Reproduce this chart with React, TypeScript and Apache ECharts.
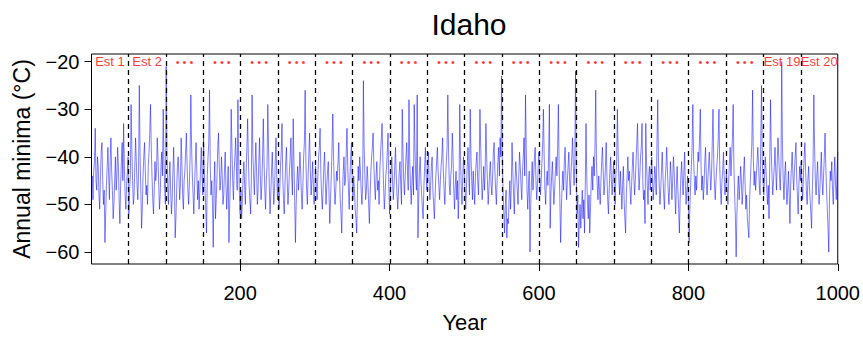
import React, { useEffect, useRef } from "react";
import * as echarts from "echarts";

// Annual minima (°C), years 1..1000 in blocks of 10 years
const minima: number[] = [
  -46,-44,-49,-43,-41,-34,-45,-47,-40,-42, -48,-51,-44,-39,-37,-45,-50,-47,-58,-52,
  -46,-42,-38,-44,-49,-41,-36,-43,-47,-53, -50,-45,-40,-47,-44,-38,-42,-49,-54,-46,
  -41,-37,-45,-33,-42,-48,-51,-46,-43,-40,
  -52,-47,-44,-29,-38,-45,-50,-48,-42,-36, -41,-46,-49,-43,-25,-39,-47,-55,-51,-44,
  -40,-37,-43,-48,-46,-50,-42,-39,-35,-29, -38,-44,-49,-52,-47,-41,-45,-43,-36,-40,
  -46,-51,-48,-42,-39,-44,-30,-41,-47,-50,
  -21,-39,-46,-50,-44,-41,-47,-52,-49,-43, -38,-45,-57,-53,-47,-42,-40,-44,-49,-46,
  -36,-41,-48,-51,-45,-43,-39,-35,-42,-47, -50,-46,-40,-27,-38,-44,-48,-52,-46,-41,
  -37,-43,-49,-45,-51,-47,-42,-38,-44,-48,
  -36,-43,-47,-51,-56,-44,-40,-37,-26,-42, -48,-45,-50,-59,-46,-41,-53,-49,-44,-38,
  -35,-42,-47,-45,-40,-44,-50,-48,-43,-39, -46,-51,-47,-42,-58,-50,-44,-30,-38,-45,
  -49,-43,-40,-36,-42,-47,-28,-41,-48,-52,
  -47,-53,-49,-44,-41,-46,-50,-43,-38,-32, -40,-46,-49,-52,-45,-27,-39,-44,-48,-42,
  -37,-43,-50,-47,-41,-36,-44,-49,-46,-40, -32,-41,-47,-51,-45,-42,-29,-38,-46,-52,
  -48,-43,-39,-45,-50,-47,-41,-36,-44,-49,
  -45,-51,-47,-42,-39,-33,-44,-49,-52,-46, -41,-38,-45,-50,-47,-43,-40,-36,-44,-48,
  -32,-41,-49,-58,-50,-45,-42,-47,-44,-39, -43,-48,-51,-46,-40,-37,-26,-41,-47,-50,
  -44,-39,-35,-43,-48,-45,-41,-46,-50,-47,
  -42,-46,-49,-44,-40,-38,-34,-43,-48,-51, -47,-42,-39,-45,-50,-46,-43,-41,-48,-54,
  -49,-44,-38,-31,-40,-46,-50,-47,-43,-45, -41,-37,-44,-49,-52,-56,-48,-43,-40,-46,
  -45,-39,-34,-42,-47,-51,-44,-40,-37,-45,
  -49,-44,-47,-51,-53,-56,-48,-42,-45,-40, -43,-47,-50,-46,-24,-38,-44,-49,-47,-42,
  -45,-50,-54,-48,-43,-40,-38,-35,-42,-46, -49,-44,-41,-47,-45,-50,-43,-39,-36,-33,
  -40,-46,-51,-48,-44,-42,-39,-35,-46,-52,
  -47,-43,-40,-45,-49,-46,-42,-38,-44,-48, -51,-47,-43,-41,-46,-50,-30,-39,-45,-48,
  -44,-40,-37,-43,-47,-28,-41,-46,-50,-45, -42,-48,-29,-38,-44,-47,-27,-57,-49,-43,
  -40,-45,-48,-51,-53,-46,-42,-38,-44,-47,
  -43,-39,-45,-49,-46,-42,-40,-47,-50,-53, -48,-44,-41,-38,-43,-46,-49,-45,-42,-40,
  -36,-43,-47,-50,-45,-41,-38,-27,-39,-46, -48,-44,-42,-35,-40,-47,-51,-46,-43,-49,
  -45,-53,-47,-29,-41,-46,-50,-44,-40,-43,
  -47,-51,-46,-42,-38,-44,-48,-30,-40,-45, -49,-43,-47,-50,-44,-41,-39,-45,-48,-42,
  -30,-38,-44,-49,-46,-42,-47,-43,-33,-40, -45,-50,-47,-43,-41,-46,-48,-44,-39,-37,
  -43,-47,-50,-45,-41,-38,-44,-36,-40,-23,
  -41,-48,-52,-56,-50,-47,-57,-53,-54,-49, -45,-51,-46,-37,-43,-48,-52,-45,-41,-44,
  -47,-50,-44,-39,-42,-46,-49,-43,-40,-36, -44,-27,-38,-47,-51,-46,-43,-60,-50,-45,
  -41,-47,-44,-40,-38,-45,-49,-46,-42,-39,
  -44,-48,-45,-41,-37,-30,-40,-47,-50,-45, -43,-46,-39,-29,-55,-48,-44,-41,-46,-50,
  -47,-43,-40,-44,-38,-29,-42,-49,-58,-51, -46,-43,-47,-41,-38,-44,-49,-45,-42,-39,
  -45,-48,-43,-40,-36,-42,-46,-41,-22,-44,
  -52,-48,-59,-54,-50,-55,-51,-47,-53,-49, -56,-46,-33,-44,-50,-53,-48,-56,-51,-45,
  -42,-47,-40,-44,-38,-26,-41,-46,-49,-44, -47,-50,-45,-41,-38,-43,-48,-46,-42,-37,
  -44,-49,-52,-47,-43,-40,-45,-48,-44,-41,
  -46,-50,-44,-41,-30,-39,-45,-48,-43,-47, -51,-46,-42,-49,-53,-56,-48,-44,-40,-45,
  -43,-47,-50,-46,-42,-39,-44,-48,-45,-41, -37,-33,-42,-47,-44,-40,-38,-33,-45,-49,
  -47,-54,-33,-41,-46,-50,-44,-42,-47,-43,
  -40,-45,-49,-46,-42,-44,-48,-37,-28,-41, -46,-50,-47,-43,-39,-44,-48,-51,-45,-42,
  -38,-43,-47,-50,-46,-41,-44,-49,-45,-40, -43,-48,-52,-46,-42,-47,-51,-56,-49,-44,
  -41,-45,-48,-43,-39,-46,-50,-47,-44,-49,
  -58,-51,-46,-42,-38,-29,-40,-45,-48,-44, -47,-43,-39,-41,-36,-30,-42,-47,-44,-49,
  -46,-41,-38,-44,-48,-45,-42,-39,-43,-47, -44,-37,-30,-41,-46,-49,-45,-42,-40,-36,
  -30,-42,-47,-50,-45,-43,-39,-44,-48,-46,
  -43,-47,-50,-45,-41,-38,-44,-40,-36,-29, -42,-48,-53,-61,-52,-47,-44,-49,-46,-42,
  -45,-50,-47,-43,-40,-46,-51,-48,-53,-55, -57,-49,-45,-41,-37,-26,-40,-46,-43,-47,
  -44,-41,-38,-42,-46,-48,-36,-25,-41,-45,
  -48,-44,-40,-43,-47,-50,-46,-53,-41,-28, -39,-44,-48,-45,-42,-38,-43,-47,-41,-36,
  -40,-44,-47,-42,-20,-38,-45,-49,-44,-41, -46,-50,-47,-43,-48,-54,-46,-42,-39,-44,
  -47,-43,-40,-37,-44,-48,-52,-46,-42,-45,
  -41,-46,-49,-44,-40,-37,-43,-47,-50,-45, -42,-46,-49,-52,-55,-47,-41,-27,-38,-45,
  -48,-44,-41,-46,-50,-47,-43,-39,-45,-48, -44,-40,-35,-42,-47,-51,-55,-60,-48,-43,
  -45,-41,-47,-50,-44,-40,-46,-49,-43,-39,
];

const firstYear = 1;
// Estimation-window boundaries (dashed lines)
const windowBreaks = [50.5, 100.5, 150.5, 200.5, 250.5, 300.5, 350.5, 400.5, 450.5, 500.5,
  550.5, 600.5, 650.5, 700.5, 750.5, 800.5, 850.5, 900.5, 950.5];
// Window label positions (centre years) and texts
const windowCentres = [25.75, 75.5, 125.5, 175.5, 225.5, 275.5, 325.5, 375.5, 425.5, 475.5,
  525.5, 575.5, 625.5, 675.5, 725.5, 775.5, 825.5, 875.5, 925.5, 975.25];
const DOTS = "• • •";
const windowLabels = ["Est 1", "Est 2", DOTS, DOTS, DOTS, DOTS, DOTS, DOTS,
  DOTS, DOTS, DOTS, DOTS, DOTS, DOTS, DOTS, DOTS, DOTS, DOTS,
  "Est 19", "Est 20"];
const labelLevel = -20;
const xTicks = [200, 400, 600, 800, 1000];
const yTicks = [-60, -50, -40, -30, -20];

const FONT = "'Liberation Sans', Arial, Helvetica, sans-serif";

export default function App() {
  const ref = useRef<HTMLDivElement>(null);
  useEffect(() => {
    if (!ref.current) return;
    const chart = echarts.init(ref.current, undefined, { renderer: "svg" });
    const lineData = minima.map((v, i) => [firstYear + i, v]);
    const labelData = windowCentres.map((c) => [c, labelLevel]);
    chart.setOption({
      animation: false,
      backgroundColor: "#ffffff",
      title: {
        text: "Idaho",
        left: 464,
        textAlign: "center",
        top: 4,
        textStyle: { fontFamily: FONT, fontSize: 30, fontWeight: "normal", color: "#000" },
      },
      grid: {
        left: 91.5,
        right: 25,
        top: 54,
        bottom: 72,
        show: true,
        borderColor: "#000",
        borderWidth: 1,
        backgroundColor: "transparent",
      },
      xAxis: {
        type: "value",
        min: 1,
        max: 1000,
        name: "Year",
        nameLocation: "middle",
        nameGap: 47,
        nameTextStyle: { fontFamily: FONT, fontSize: 22, color: "#000" },
        axisLine: { show: false },
        splitLine: { show: false },
        axisTick: { show: true, length: 7, lineStyle: { color: "#000" }, customValues: xTicks },
        axisLabel: {
          customValues: xTicks,
          margin: 19,
          fontFamily: FONT,
          fontSize: 20,
          color: "#000",
          formatter: (v: number) => String(v),
        },
      },
      yAxis: {
        type: "value",
        min: -62.5,
        max: -18.4,
        name: "Annual minima (°C)",
        nameLocation: "middle",
        nameRotate: 90,
        nameGap: 58,
        nameTextStyle: { fontFamily: FONT, fontSize: 23, color: "#000" },
        axisLine: { show: false },
        splitLine: { show: false },
        axisTick: { show: true, length: 7, lineStyle: { color: "#000" }, customValues: yTicks },
        axisLabel: {
          customValues: yTicks,
          margin: 12,
          fontFamily: FONT,
          fontSize: 20,
          color: "#000",
          formatter: (v: number) => (v < 0 ? "\u2212" + Math.abs(v) : String(v)),
        },
      },
      series: [
        {
          type: "line",
          data: lineData,
          showSymbol: false,
          symbol: "none",
          lineStyle: { color: "rgba(0,0,255,0.5)", width: 1 },
          itemStyle: { color: "rgba(0,0,255,0.5)" },
          markLine: {
            silent: true,
            symbol: ["none", "none"],
            label: { show: false },
            lineStyle: { color: "#000", type: [5, 4], width: 1.3 },
            data: windowBreaks.map((x) => ({ xAxis: x })),
          },
          z: 2,
        },
        {
          type: "scatter",
          data: labelData,
          symbolSize: 1,
          itemStyle: { color: "rgba(0,0,0,0)" },
          label: {
            show: true,
            position: "inside",
            formatter: (p: any) => {
              const t = windowLabels[p.dataIndex];
              return t === DOTS ? "{d|" + t + "}" : "{e|" + t + "}";
            },
            color: "#ff0000",
            rich: {
              e: { fontFamily: FONT, fontSize: 13, color: "#ff0000" },
              d: { fontFamily: FONT, fontSize: 11, color: "#ff0000" },
            },
          },
          z: 3,
        },
      ],
    });
    return () => chart.dispose();
  }, []);
  return (
    <div
      ref={ref}
      style={{ position: "absolute", left: 0, top: 0, width: 863, height: 338 }}
    />
  );
}
